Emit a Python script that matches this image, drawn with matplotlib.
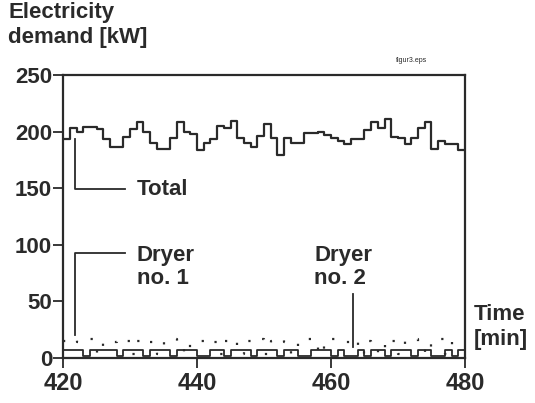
import matplotlib.pyplot as plt
import numpy as np

plt.rcParams['font.family'] = ['Liberation Sans', 'DejaVu Sans']
plt.rcParams['font.weight'] = 'bold'

# minute-by-minute demand, 420..480 min
minutes = np.arange(420, 480)
total = [193, 203, 200, 204, 204, 202, 193, 186, 186, 195,
         202, 208, 200, 190, 185, 185, 194, 208, 200, 198,
         184, 190, 193, 205, 203, 209, 194, 190, 186, 196,
         207, 194, 179, 194, 190, 190, 199, 199, 200, 197,
         194, 192, 189, 193, 193, 201, 208, 203, 211, 195,
         194, 189, 194, 203, 208, 185, 192, 189, 189, 184]
dryer1 = [7, 7, 7, 2, 7, 7, 7, 7, 2, 7,
          7, 7, 2, 7, 7, 7, 2, 7, 7, 7,
          2, 2, 7, 7, 2, 7, 7, 7, 2, 7,
          7, 7, 2, 7, 7, 2, 2, 7, 7, 7,
          2, 7, 2, 2, 7, 2, 7, 7, 2, 7,
          7, 7, 2, 7, 7, 2, 2, 7, 2, 7]
dryer2 = [15, 17, 14, 15, 17, 3, 15, 14, 17, 15,
          3, 15, 17, 14, 3, 15, 17, 14, 3, 15,
          15, 17, 14, 3, 15, 17, 3, 15, 14, 17,
          3, 15, 17, 14, 3, 15, 17, 14, 3, 15,
          17, 15, 14, 17, 3, 15, 14, 3, 17, 15,
          3, 15, 17, 14, 3, 15, 17, 3, 15, 14]

def ext(v):
    return list(v) + [v[-1]]

t = list(minutes) + [480]
ink = '#2a2a2a'

fig = plt.figure(figsize=(5.35, 4.03), dpi=100)
ax = fig.add_axes([0.118, 0.112, 0.751, 0.702])

ax.step(t, ext(total), where='post', color=ink, lw=1.6)
ax.step(t, ext(dryer1), where='post', color=ink, lw=1.3)
ax.step(t, ext(dryer2), where='post', color=ink, lw=1.6, linestyle=(0, (1, 7)))

ax.set_xlim(420, 480)
ax.set_ylim(0, 250)
ax.set_xticks([420, 440, 460, 480])
ax.set_yticks([0, 50, 100, 150, 200, 250])
ax.tick_params(length=7, width=1.3, color=ink, labelcolor=ink)
ax.tick_params(axis='y', labelsize=16, pad=1)
ax.tick_params(axis='x', labelsize=17, pad=3)
for lab in ax.get_xticklabels() + ax.get_yticklabels():
    lab.set_fontweight('bold')
for s in ax.spines.values():
    s.set_color(ink)
    s.set_linewidth(1.6)

# leader lines and labels
fs = 16
ax.plot([421.8, 421.8, 429.3], [193, 149, 149], color=ink, lw=1.3)
ax.text(431, 149, 'Total', fontsize=fs, fontweight='bold', color=ink, va='center')
ax.plot([421.8, 421.8, 429.3], [20, 93, 93], color=ink, lw=1.3)
ax.text(431, 100, 'Dryer\nno. 1', fontsize=fs, fontweight='bold', color=ink,
        va='top', linespacing=1.15)
ax.plot([463.3, 463.3], [10, 56], color=ink, lw=1.3)
ax.text(457.5, 100, 'Dryer\nno. 2', fontsize=fs, fontweight='bold', color=ink,
        va='top', linespacing=1.15)

fig.text(0.015, 0.995, 'Electricity\ndemand [kW]', fontsize=fs, fontweight='bold',
         color=ink, va='top', ha='left', linespacing=1.25)
fig.text(0.885, 0.245, 'Time\n[min]', fontsize=fs, fontweight='bold',
         color=ink, va='top', ha='left', linespacing=1.25)
fig.text(0.74, 0.845, 'figur3.eps', fontsize=5, fontweight='normal', color=ink)

fig.savefig('out.png', dpi=100)
